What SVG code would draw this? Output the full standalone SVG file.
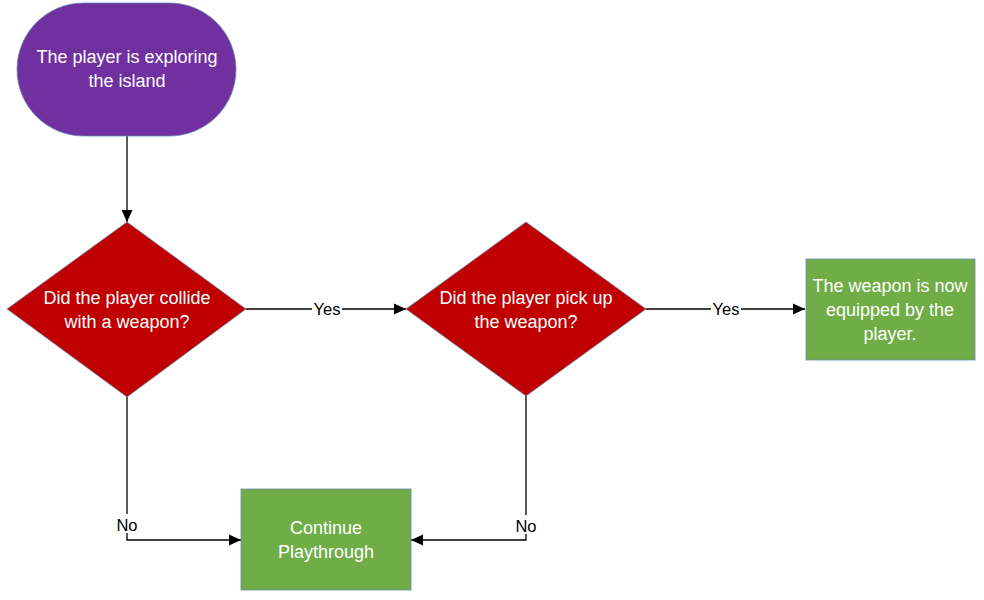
<svg xmlns="http://www.w3.org/2000/svg" width="984" height="600" viewBox="0 0 984 600">
<style>
.shape{stroke:#6A8BB0;stroke-width:0.8}
.t{font-family:"Liberation Sans",Arial,sans-serif;font-size:18px;fill:#ffffff;text-anchor:middle}
.lbl{font-family:"Liberation Sans",Arial,sans-serif;font-size:16.5px;fill:#000000;text-anchor:middle}
.line{fill:none;stroke:#000000;stroke-width:1.3}
.bg{fill:#ffffff}
</style>
<defs>
<marker id="arr" viewBox="0 0 12 12" refX="12" refY="6" markerWidth="12" markerHeight="12" markerUnits="userSpaceOnUse" orient="auto">
<path d="M0,0.5 L12,6 L0,11.5 Z" fill="#000000"/>
</marker>
</defs>
<rect width="984" height="600" fill="#ffffff"/>
<g id="connectors">
<line class="line" x1="127" y1="136" x2="127" y2="222" marker-end="url(#arr)"/>
<line class="line" x1="246" y1="309" x2="406" y2="309" marker-end="url(#arr)"/>
<line class="line" x1="646" y1="309" x2="805" y2="309" marker-end="url(#arr)"/>
<polyline class="line" points="127,397 127,540 241,540" marker-end="url(#arr)"/>
<polyline class="line" points="526,396 526,540 411,540" marker-end="url(#arr)"/>
<rect class="bg" x="312" y="300" width="30" height="18"/>
<text class="lbl" x="327" y="315">Yes</text>
<rect class="bg" x="711" y="300" width="30" height="18"/>
<text class="lbl" x="726" y="315">Yes</text>
<rect class="bg" x="114" y="514" width="26" height="19"/>
<text class="lbl" x="127" y="531">No</text>
<rect class="bg" x="513" y="515" width="26" height="19"/>
<text class="lbl" x="526" y="532">No</text>
</g>
<g id="start">
<rect class="shape" x="17" y="3" width="219" height="133" rx="66.5" ry="66.5" fill="#7030A0"/>
<text class="t" x="127" y="63">The player is exploring</text>
<text class="t" x="127" y="87">the island</text>
</g>
<g id="decision1">
<polygon class="shape" points="127,222 246,309 127,397 7,309" fill="#C00000"/>
<text class="t" x="127" y="304">Did the player collide</text>
<text class="t" x="127" y="328">with a weapon?</text>
</g>
<g id="decision2">
<polygon class="shape" points="526,222 646,309 526,396 406,309" fill="#C00000"/>
<text class="t" x="526" y="304">Did the player pick up</text>
<text class="t" x="526" y="328">the weapon?</text>
</g>
<g id="equipped">
<rect class="shape" x="806" y="259" width="169" height="101" fill="#70AD47"/>
<text class="t" x="890" y="292">The weapon is now</text>
<text class="t" x="890" y="316">equipped by the</text>
<text class="t" x="890" y="340">player.</text>
</g>
<g id="continue">
<rect class="shape" x="241" y="489" width="170" height="101" fill="#70AD47"/>
<text class="t" x="326" y="534">Continue</text>
<text class="t" x="326" y="558">Playthrough</text>
</g>
</svg>
